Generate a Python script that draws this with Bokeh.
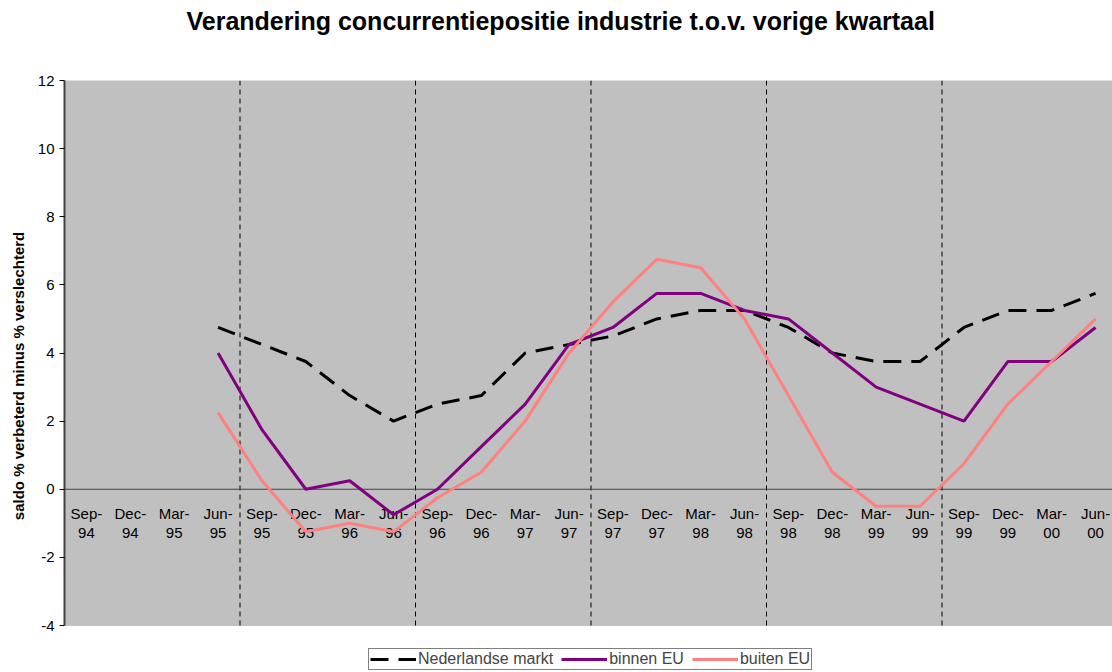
from bokeh.plotting import figure
from bokeh.models import Legend, LegendItem, FixedTicker, ColumnDataSource, Label, BoxAnnotation
from bokeh.core.properties import value
from bokeh.embed import file_html
from bokeh.resources import INLINE

nan = float("nan")

categories = ["Sep-94", "Dec-94", "Mar-95", "Jun-95", "Sep-95", "Dec-95", "Mar-96", "Jun-96",
              "Sep-96", "Dec-96", "Mar-97", "Jun-97", "Sep-97", "Dec-97", "Mar-98", "Jun-98",
              "Sep-98", "Dec-98", "Mar-99", "Jun-99", "Sep-99", "Dec-99", "Mar-00", "Jun-00"]

nederlandse_markt = [nan, nan, nan, 4.75, 4.25, 3.75, 2.75, 2.0, 2.5, 2.75, 4.0, 4.25,
                     4.5, 5.0, 5.25, 5.25, 4.75, 4.0, 3.75, 3.75, 4.75, 5.25, 5.25, 5.75]
binnen_eu = [nan, nan, nan, 4.0, 1.75, 0.0, 0.25, -0.75, 0.0, 1.25, 2.5, 4.25,
             4.75, 5.75, 5.75, 5.25, 5.0, 4.0, 3.0, 2.5, 2.0, 3.75, 3.75, 4.75]
buiten_eu = [nan, nan, nan, 2.25, 0.25, -1.25, -1.0, -1.25, -0.25, 0.5, 2.0, 4.0,
             5.5, 6.75, 6.5, 5.0, 2.75, 0.5, -0.5, -0.5, 0.75, 2.5, 3.75, 5.0]

year_boundaries = [4, 8, 12, 16, 20]
y_ticks = [-4, -2, 0, 2, 4, 6, 8, 10, 12]
title_text = "Verandering concurrentiepositie industrie t.o.v. vorige kwartaal"

xs = [i + 0.5 for i in range(len(categories))]
labels = [c.replace("-", "-\n") for c in categories]

FONT = "Liberation Sans"

# layout geometry (pixels)
W, H = 1112, 671
TOP, LEFT = 80, 64
PLOT_H = 545            # height of the grey plot area
CAT_W = 43.875          # width of one category
ymin, ymax = y_ticks[0], y_ticks[-1]
px_per_unit = PLOT_H / (ymax - ymin)
extra_below = (H - TOP - PLOT_H) / px_per_unit   # room for the legend inside the frame
x_end = (W - LEFT) / CAT_W

p = figure(width=W, height=H, output_backend="svg", toolbar_location=None,
           x_range=(0, x_end), y_range=(ymin - extra_below, ymax), x_axis_type=None,
           min_border_left=LEFT, min_border_right=0, min_border_top=TOP, min_border_bottom=0,
           background_fill_color="white", border_fill_color="white")

p.title.text = ""
p.title.standoff = 0
p.outline_line_color = None
p.xgrid.visible = False
p.ygrid.visible = False

p.add_layout(Label(x=122, y=60, x_units="screen", y_units="screen", text=title_text,
                   text_font=FONT, text_font_size="25px", text_font_style="bold",
                   text_color="black", text_align="left", text_baseline="middle"), "above")

# grey plot area with its border
p.add_layout(BoxAnnotation(left=0, right=len(categories), bottom=ymin, top=ymax,
                           fill_color="#C0C0C0", fill_alpha=1,
                           line_color="#808080", line_width=1, level="underlay"))

ax = p.yaxis[0]
ax.ticker = FixedTicker(ticks=y_ticks)
ax.bounds = (ymin, ymax)
ax.major_label_overrides = {t: str(t) for t in y_ticks}
ax.minor_tick_line_color = None
ax.major_tick_in = 0
ax.major_tick_out = 5
ax.major_tick_line_color = "black"
ax.axis_line_color = "#404040"
ax.axis_line_width = 2
ax.major_label_text_font = FONT
ax.major_label_text_font_size = "15px"
ax.major_label_text_color = "black"
ax.major_label_standoff = 5
ax.axis_label = "saldo % verbeterd minus % verslechterd"
ax.axis_label_text_font = FONT
ax.axis_label_text_font_size = "15px"
ax.axis_label_text_font_style = "bold"
ax.axis_label_text_color = "black"
ax.axis_label_standoff = 8

# year separators
p.segment(x0=year_boundaries, y0=[ymin] * len(year_boundaries),
          x1=year_boundaries, y1=[ymax] * len(year_boundaries),
          line_color="black", line_width=1, line_dash="5 4")

# category axis line at zero
p.segment(x0=[0], y0=[0], x1=[len(categories)], y1=[0], line_color="#404040", line_width=1)

src = ColumnDataSource(dict(x=xs, nl=nederlandse_markt, bi=binnen_eu, bu=buiten_eu, lab=labels))

p.text(x="x", y=0, text="lab", source=src, text_align="center", text_baseline="top",
       y_offset=16, text_font=value(FONT), text_font_size="15px", text_color="black",
       text_line_height=1.09)

r_nl = p.line("x", "nl", source=src, line_color="black", line_width=3, line_dash="18 10")
r_bi = p.line("x", "bi", source=src, line_color="#800080", line_width=3)
r_bu = p.line("x", "bu", source=src, line_color="#FF8080", line_width=3)

legend = Legend(items=[LegendItem(label="Nederlandse markt", renderers=[r_nl]),
                       LegendItem(label="binnen EU", renderers=[r_bi]),
                       LegendItem(label="buiten EU", renderers=[r_bu])],
                orientation="horizontal", location=(304, 1),
                border_line_color="black", border_line_width=1,
                background_fill_color="white", background_fill_alpha=1,
                label_text_font=FONT, label_text_font_size="16px",
                label_standoff=2, glyph_width=46, glyph_height=12,
                label_height=14, padding=1, spacing=8, margin=0)
p.add_layout(legend, "center")

open("out.html", "w").write(file_html(p, INLINE))
